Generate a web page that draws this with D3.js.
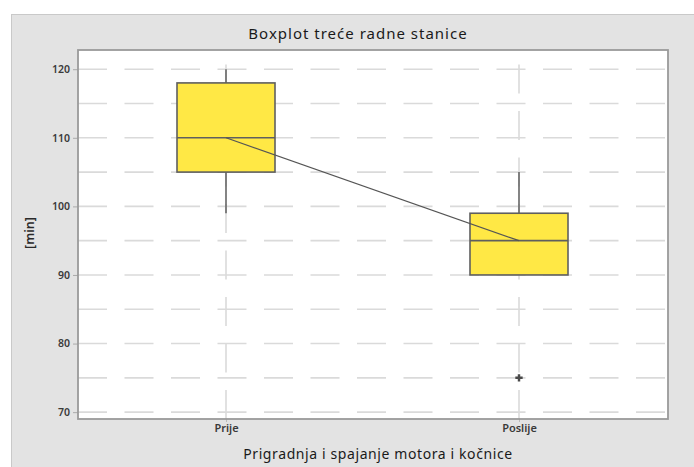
<!DOCTYPE html>
<html>
<head>
<meta charset="utf-8">
<script src="https://cdn.jsdelivr.net/npm/d3@7"></script>
<style>
  html, body { margin: 0; padding: 0; background: #fff; }
  svg { display: block; font-family: "Noto Sans", "Open Sans", sans-serif; }
</style>
</head>
<body>
<div id="chart"></div>
<script>
"use strict";
// values
var categories = ["Prije", "Poslije"];
var q1 = [105, 90];
var medians = [110, 95];
var q3 = [118, 99];
var whiskerLow = [99, 90];
var whiskerHigh = [120, 105];
var outliers = [[], [75]];
var yTicks = [70, 80, 90, 100, 110, 120];
var yGrid = [70, 75, 80, 85, 90, 95, 100, 105, 110, 115, 120];

var W = 694, H = 467;
var plot = {left: 78, top: 50, right: 668, bottom: 419};

var svg = d3.select("#chart").append("svg")
  .attr("width", W)
  .attr("height", H);

// outer grey panel
svg.append("rect")
  .attr("x", 11.5).attr("y", 14.5)
  .attr("width", W).attr("height", H)
  .attr("fill", "#e3e3e3")
  .attr("stroke", "#c9c9c9")
  .attr("stroke-width", 1);

var x = d3.scalePoint()
  .domain(categories)
  .range([226, 519]);

var y = d3.scaleLinear()
  .domain([69, 122.8])
  .range([plot.bottom, plot.top]);

var boxW = 98;

// plot area
svg.append("rect")
  .attr("x", plot.left).attr("y", plot.top)
  .attr("width", plot.right - plot.left)
  .attr("height", plot.bottom - plot.top)
  .attr("fill", "#fff");

var grid = svg.append("g").attr("class", "grid");
grid.selectAll("line.h")
  .data(yGrid)
  .enter().append("line")
    .attr("class", "h")
    .attr("x1", plot.left).attr("x2", plot.right)
    .attr("y1", function(d) { return y(d); })
    .attr("y2", function(d) { return y(d); })
    .attr("stroke", "#dadada")
    .attr("stroke-width", 1.6)
    .attr("stroke-dasharray", "29,17.5");
grid.selectAll("line.v")
  .data(categories)
  .enter().append("line")
    .attr("class", "v")
    .attr("x1", function(d) { return x(d); })
    .attr("x2", function(d) { return x(d); })
    .attr("y1", plot.bottom).attr("y2", plot.top)
    .attr("stroke", "#dadada")
    .attr("stroke-width", 1.6)
    .attr("stroke-dasharray", "29,17.5");

// y axis
var yAxis = svg.append("g")
  .attr("transform", "translate(" + plot.left + ",0)")
  .call(d3.axisLeft(y).tickValues(yTicks).tickSize(5).tickPadding(3));
yAxis.select(".domain").remove();
yAxis.selectAll(".tick line").attr("stroke", "#aaa");
yAxis.selectAll(".tick text")
  .attr("font-size", 10.5)
  .attr("font-weight", 600)
  .attr("fill", "#3a3a3a")
  .attr("font-family", "Noto Sans, sans-serif");

// x axis
var xAxis = svg.append("g")
  .attr("transform", "translate(0," + plot.bottom + ")")
  .call(d3.axisBottom(x).tickSize(3).tickPadding(2));
xAxis.select(".domain").remove();
xAxis.selectAll(".tick line").attr("stroke", "#bbb");
xAxis.selectAll(".tick text")
  .attr("font-size", 11)
  .attr("font-weight", 600)
  .attr("fill", "#3a3a3a")
  .attr("font-family", "Noto Sans, sans-serif");

// whiskers
var marks = svg.append("g").attr("class", "marks");
marks.selectAll("line.whiskerTop")
  .data(categories)
  .enter().append("line")
    .attr("x1", function(d) { return x(d); })
    .attr("x2", function(d) { return x(d); })
    .attr("y1", function(d, i) { return y(q3[i]); })
    .attr("y2", function(d, i) { return y(whiskerHigh[i]); })
    .attr("stroke", "#666")
    .attr("stroke-width", 1.6);
marks.selectAll("line.whiskerBottom")
  .data(categories)
  .enter().append("line")
    .attr("x1", function(d) { return x(d); })
    .attr("x2", function(d) { return x(d); })
    .attr("y1", function(d, i) { return y(q1[i]); })
    .attr("y2", function(d, i) { return y(whiskerLow[i]); })
    .attr("stroke", "#666")
    .attr("stroke-width", 1.6);

// boxes
marks.selectAll("rect.box")
  .data(categories)
  .enter().append("rect")
    .attr("class", "box")
    .attr("x", function(d) { return x(d) - boxW / 2; })
    .attr("width", boxW)
    .attr("y", function(d, i) { return y(q3[i]); })
    .attr("height", function(d, i) { return y(q1[i]) - y(q3[i]); })
    .attr("fill", "#ffe845")
    .attr("stroke", "#5f5f5f")
    .attr("stroke-width", 1.6);

// medians
marks.selectAll("line.median")
  .data(categories)
  .enter().append("line")
    .attr("x1", function(d) { return x(d) - boxW / 2; })
    .attr("x2", function(d) { return x(d) + boxW / 2; })
    .attr("y1", function(d, i) { return y(medians[i]); })
    .attr("y2", function(d, i) { return y(medians[i]); })
    .attr("stroke", "#5f5f5f")
    .attr("stroke-width", 1.6);

// median connect line
marks.append("path")
  .datum(categories)
  .attr("d", d3.line()
    .x(function(d) { return x(d); })
    .y(function(d, i) { return y(medians[i]); }))
  .attr("fill", "none")
  .attr("stroke", "#555")
  .attr("stroke-width", 1.2);

// outliers
categories.forEach(function(c, i) {
  marks.selectAll("path.out" + i)
    .data(outliers[i])
    .enter().append("path")
      .attr("transform", function(d) { return "translate(" + x(c) + "," + y(d) + ")"; })
      .attr("d", d3.symbol().type(d3.symbolCross).size(30))
      .attr("fill", "#4a4a4a");
});

// plot border
svg.append("rect")
  .attr("x", plot.left).attr("y", plot.top)
  .attr("width", plot.right - plot.left)
  .attr("height", plot.bottom - plot.top)
  .attr("fill", "none")
  .attr("stroke", "#9a9a9a")
  .attr("stroke-width", 1.8);

// titles
svg.append("text")
  .attr("x", 358).attr("y", 39)
  .attr("text-anchor", "middle")
  .attr("font-size", 15)
  .attr("letter-spacing", 1)
  .attr("fill", "#1a1a1a")
  .text("Boxplot treće radne stanice");

svg.append("text")
  .attr("x", 378).attr("y", 459)
  .attr("text-anchor", "middle")
  .attr("font-size", 14)
  .attr("letter-spacing", 0.6)
  .attr("fill", "#1a1a1a")
  .text("Prigradnja i spajanje motora i kočnice");

svg.append("text")
  .attr("transform", "translate(34,233) rotate(-90)")
  .attr("text-anchor", "middle")
  .attr("font-size", 12.5)
  .attr("font-weight", 600)
  .attr("fill", "#2a2a2a")
  .text("[min]");
</script>
</body>
</html>
